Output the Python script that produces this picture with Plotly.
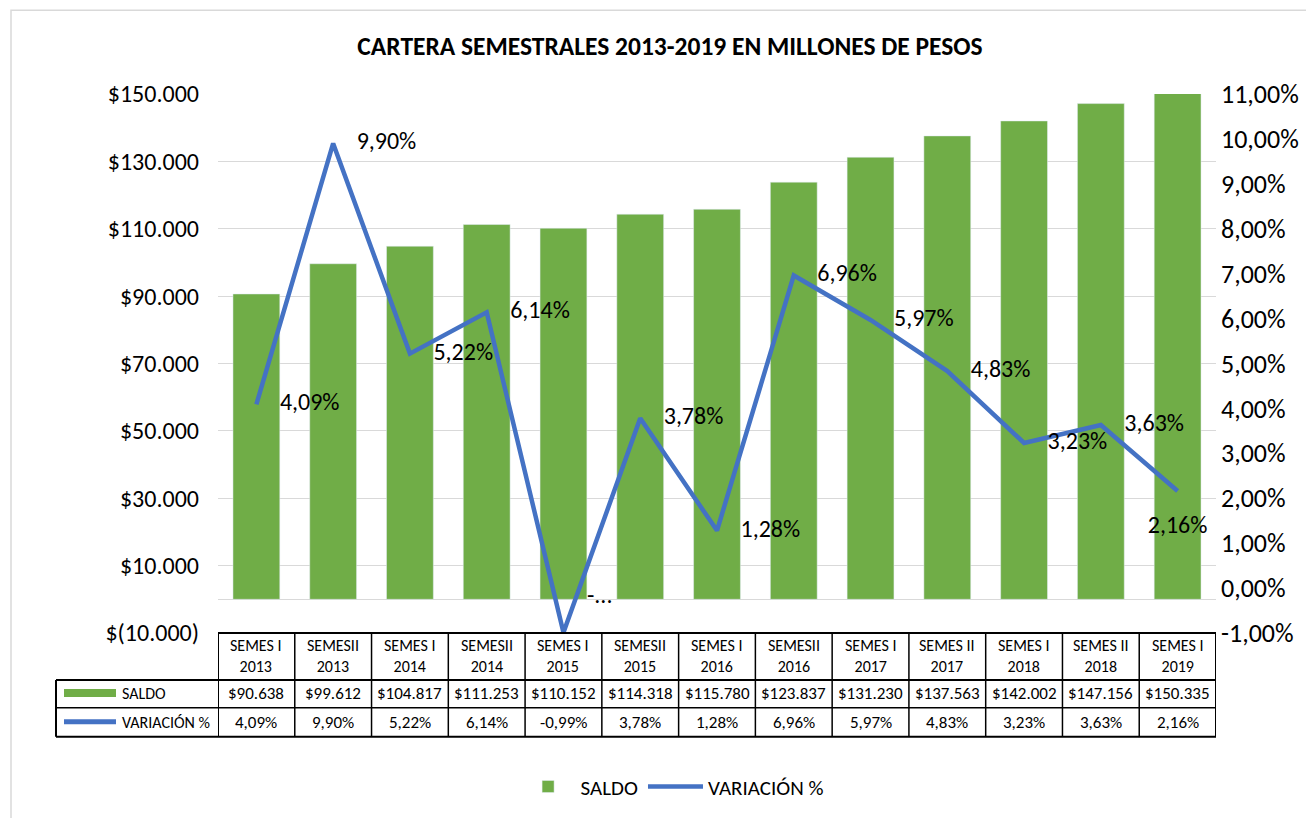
import plotly.graph_objects as go

# ---------------- data ----------------
categorias = ["SEMES I<br>2013", "SEMESII<br>2013", "SEMES I<br>2014", "SEMESII<br>2014",
              "SEMES I<br>2015", "SEMESII<br>2015", "SEMES I<br>2016", "SEMESII<br>2016",
              "SEMES I<br>2017", "SEMES II<br>2017", "SEMES I<br>2018", "SEMES II<br>2018",
              "SEMES I<br>2019"]
saldo = [90638, 99612, 104817, 111253, 110152, 114318, 115780, 123837, 131230,
         137563, 142002, 147156, 150335]
variacion = [4.09, 9.90, 5.22, 6.14, -0.99, 3.78, 1.28, 6.96, 5.97, 4.83, 3.23, 3.63, 2.16]
saldo_txt = ["$90.638", "$99.612", "$104.817", "$111.253", "$110.152", "$114.318", "$115.780",
             "$123.837", "$131.230", "$137.563", "$142.002", "$147.156", "$150.335"]
variacion_txt = ["4,09%", "9,90%", "5,22%", "6,14%", "-0,99%", "3,78%", "1,28%", "6,96%",
                 "5,97%", "4,83%", "3,23%", "3,63%", "2,16%"]
etiquetas_linea = ["4,09%", "9,90%", "5,22%", "6,14%", "-...", "3,78%", "1,28%", "6,96%",
                   "5,97%", "4,83%", "3,23%", "3,63%", "2,16%"]
pos_etiquetas = ["middle right"] * 4 + ["top right"] + ["middle right"] * 7 + ["bottom center"]
izq_ticks = [-10000, 10000, 30000, 50000, 70000, 90000, 110000, 130000, 150000]
izq_texto = ["$(10.000)", "$10.000", "$30.000", "$50.000", "$70.000", "$90.000",
             "$110.000", "$130.000", "$150.000"]
der_ticks = [-1, 0, 1, 2, 3, 4, 5, 6, 7, 8, 9, 10, 11]
der_texto = ["-1,00%", "0,00%", "1,00%", "2,00%", "3,00%", "4,00%", "5,00%", "6,00%",
             "7,00%", "8,00%", "9,00%", "10,00%", "11,00%"]

VERDE = "#70AD47"
AZUL = "#4472C4"
FONT = "Carlito, Calibri, Lato, sans-serif"
n = len(categorias)
xs = list(range(n))

# page body margin compensation (browser default 8px)
OFF = 8
W, H = 1314 - OFF, 818 - OFF

fig = go.Figure()
fig.add_trace(go.Bar(x=xs, y=saldo, name="SALDO", marker_color=VERDE, yaxis="y"))
fig.add_trace(go.Scatter(
    x=xs, y=variacion, name="VARIACIÓN %", yaxis="y2",
    mode="lines+markers+text",
    line=dict(color=AZUL, width=4.5),
    marker=dict(size=36, color="rgba(0,0,0,0)"),
    text=etiquetas_linea, textposition=pos_etiquetas,
    textfont=dict(size=24, color="#000000", family=FONT),
    cliponaxis=False,
))

# ---------------- data table (below plot area) ----------------
PH = 540.0  # plot height in px
PW = 998.0  # plot width in px
def py(px):
    return -px / PH

row_top = 0.0
row_h1 = py(47)
row_h2 = py(75)
row_h3 = py(104)
left_edge = (56 - 218) / PW

shapes = []
line_black = dict(color="black", width=1.5)
line_outer = dict(color="black", width=2)
for i in range(n + 1):
    shapes.append(dict(type="line", xref="x", yref="paper", x0=i - 0.5, x1=i - 0.5,
                       y0=row_top, y1=row_h3, line=line_outer if i in (0, n) else line_black))
shapes.append(dict(type="line", xref="paper", yref="paper", x0=0, x1=1, y0=row_top, y1=row_top, line=line_outer))
for yy, ln in ((row_h1, line_outer), (row_h2, line_black), (row_h3, line_outer)):
    shapes.append(dict(type="line", xref="paper", yref="paper", x0=left_edge, x1=1, y0=yy, y1=yy, line=ln))
shapes.append(dict(type="line", xref="paper", yref="paper", x0=left_edge, x1=left_edge,
                   y0=row_h1, y1=row_h3, line=line_outer))
kx0 = (64 - 218) / PW
kx1 = (116 - 218) / PW
shapes.append(dict(type="rect", xref="paper", yref="paper", x0=kx0, x1=kx1, y0=py(56), y1=py(64),
                   fillcolor=VERDE, line=dict(width=0)))
shapes.append(dict(type="line", xref="paper", yref="paper", x0=kx0, x1=kx1, y0=py(89), y1=py(89),
                   line=dict(color=AZUL, width=5)))
shapes.append(dict(type="rect", xref="paper", yref="paper", x0=(11 - 218) / PW, x1=1.2,
                   y0=(634 - 10) / PH, y1=-0.5, line=dict(color="#D9D9D9", width=1.5),
                   layer="below"))

annotations = []
hfont = dict(family=FONT, size=16, color="#000000")
tfont = dict(family=FONT, size=17, color="#000000")
rfont = dict(family=FONT, size=16, color="#000000")
for i in range(n):
    annotations.append(dict(xref="x", yref="paper", x=i, y=(row_top + row_h1) / 2, text=categorias[i],
                            showarrow=False, font=hfont, xanchor="center", yanchor="middle"))
    annotations.append(dict(xref="x", yref="paper", x=i, y=(row_h1 + row_h2) / 2, text=saldo_txt[i],
                            showarrow=False, font=tfont, xanchor="center", yanchor="middle"))
    annotations.append(dict(xref="x", yref="paper", x=i, y=(row_h2 + row_h3) / 2, text=variacion_txt[i],
                            showarrow=False, font=tfont, xanchor="center", yanchor="middle"))
lx = (120 - 218) / PW
annotations.append(dict(xref="paper", yref="paper", x=lx, y=(row_h1 + row_h2) / 2, text="SALDO",
                        showarrow=False, font=rfont, xanchor="left", yanchor="middle"))
annotations.append(dict(xref="paper", yref="paper", x=lx, y=(row_h2 + row_h3) / 2, text="VARIACIÓN %",
                        showarrow=False, font=rfont, xanchor="left", yanchor="middle"))

fig.update_layout(
    width=W, height=H,
    margin=dict(l=218 - OFF, r=W - (1216 - OFF), t=94 - OFF, b=H - (634 - OFF)),
    paper_bgcolor="white", plot_bgcolor="white",
    font=dict(family=FONT, color="#000000"),
    title=dict(text="<b>CARTERA SEMESTRALES 2013-2019 EN MILLONES DE PESOS</b>",
               x=(670 - OFF) / W, xanchor="center", y=1 - (46 - OFF) / H, yanchor="middle",
               font=dict(size=25.5, family=FONT, color="#000000")),
    bargap=0.39,
    showlegend=True,
    legend=dict(orientation="h", x=0.455, xanchor="center", y=-0.283, yanchor="middle",
                font=dict(size=21, family=FONT, color="#000000"), itemwidth=55,
                bgcolor="rgba(0,0,0,0)"),
    xaxis=dict(range=[-0.5, n - 0.5], showticklabels=False, showgrid=False, zeroline=False,
               showline=False, ticks=""),
    yaxis=dict(range=[-10000, 150000], tickvals=izq_ticks, ticktext=izq_texto,
               showgrid=True, gridcolor="#D9D9D9", gridwidth=1,
               zeroline=True, zerolinecolor="#D9D9D9", zerolinewidth=1,
               showline=False, ticks="", tickfont=dict(size=24), ticklabelstandoff=18),
    yaxis2=dict(range=[-1, 11], tickvals=der_ticks, ticktext=der_texto, overlaying="y",
                side="right", showgrid=False, zeroline=False, showline=False, ticks="",
                tickfont=dict(size=26), ticklabelstandoff=4),
    shapes=shapes,
    annotations=annotations,
    hovermode=False,
)

fig.write_html("out.html")
